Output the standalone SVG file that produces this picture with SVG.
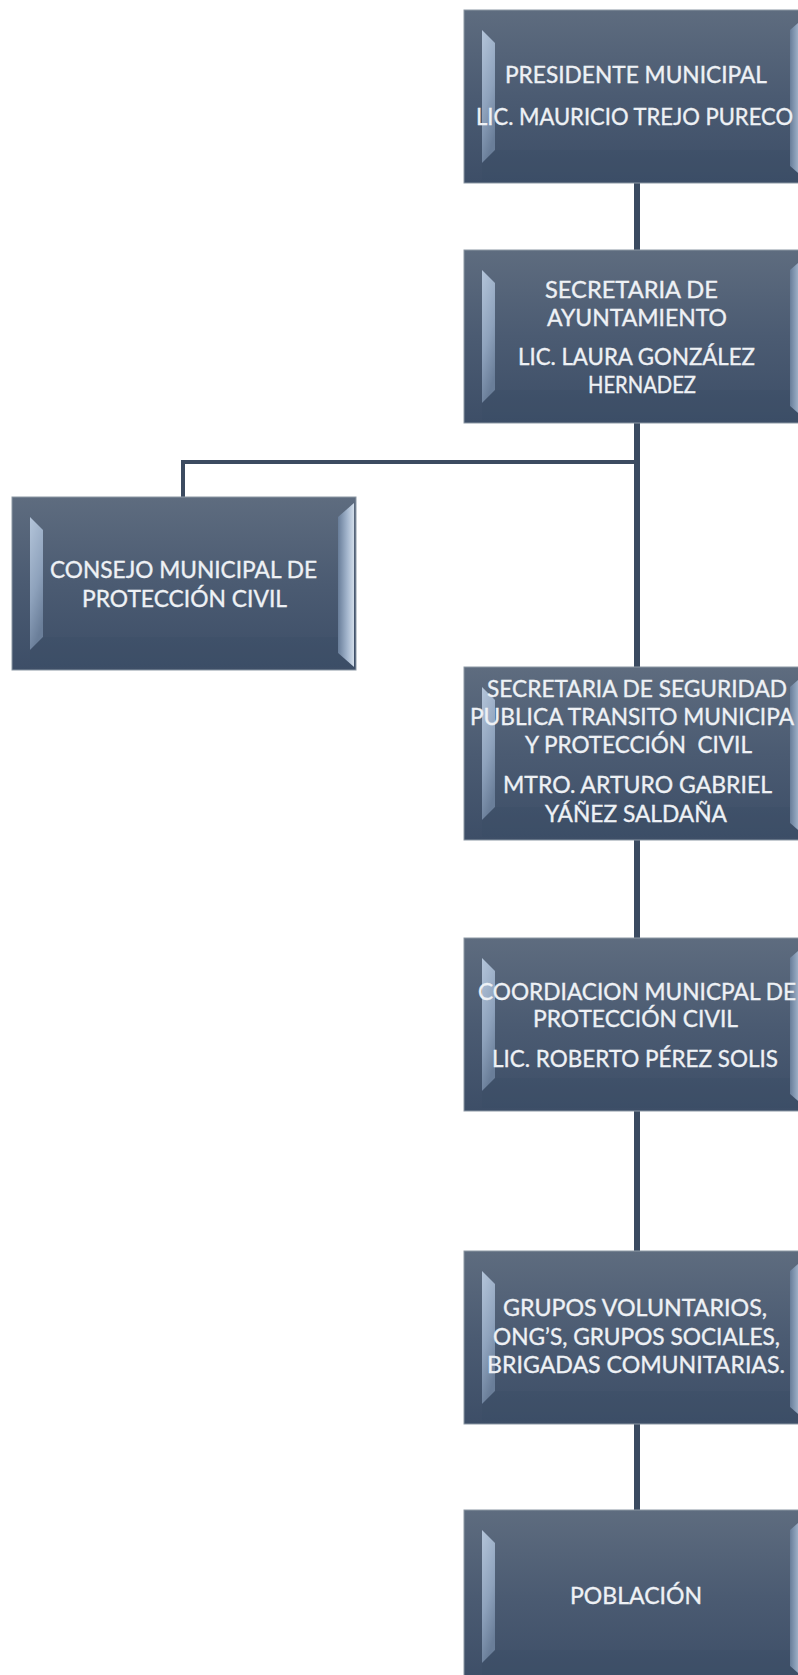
<svg xmlns="http://www.w3.org/2000/svg" width="798" height="1675" viewBox="0 0 798 1675">
<style>
.t{font-family:Lato,"Liberation Sans",sans-serif;font-size:23px;fill:#eef1f5;stroke:#eef1f5;stroke-width:0.35px;}
.conn{fill:none;stroke:#3a4a60;stroke-width:6;}
.branch{fill:none;stroke:#3c4b60;stroke-width:4;}
</style>
<defs>
<linearGradient id="faceG" x1="0" y1="0" x2="0" y2="1">
<stop offset="0" stop-color="#5e6c7f"/>
<stop offset="0.5" stop-color="#4b5b72"/>
<stop offset="1" stop-color="#3d4e67"/>
</linearGradient>
<linearGradient id="leftG" x1="0" y1="0" x2="0.3" y2="1">
<stop offset="0" stop-color="#b4c5da"/>
<stop offset="0.6" stop-color="#8ea2bc"/>
<stop offset="1" stop-color="#6a7e99"/>
</linearGradient>
<linearGradient id="rightG" x1="0" y1="0" x2="1" y2="0">
<stop offset="0" stop-color="#687d99"/>
<stop offset="0.6" stop-color="#a6b8cf"/>
<stop offset="1" stop-color="#d2dde9"/>
</linearGradient>
<g id="box">
<rect x="0" y="0" width="344" height="173" fill="url(#faceG)" stroke="#8b97a4" stroke-width="1"/>
<polygon points="18,20 31,33 31,140 18,153" fill="url(#leftG)"/>
<polygon points="326,20 342,6 342,170 326,156" fill="url(#rightG)"/>
<polygon points="18,153 31,140 326,140 326,156 342,170 18,170" fill="#394a62" opacity="0.25"/>
</g>
</defs>

<g id="connectors">
<path class="conn" d="M637,183 V250"/>
<path class="conn" d="M637,423 V667"/>
<path class="conn" d="M637,840 V938"/>
<path class="conn" d="M637,1111 V1251"/>
<path class="conn" d="M637,1424 V1510"/>
<path class="branch" d="M637,462 H183 V497"/>
</g>

<g id="presidente">
<use href="#box" x="464" y="10"/>
<text class="t" x="505" y="83" textLength="262" lengthAdjust="spacingAndGlyphs">PRESIDENTE MUNICIPAL</text>
<text class="t" x="476" y="125" textLength="317" lengthAdjust="spacingAndGlyphs">LIC. MAURICIO TREJO PURECO</text>
</g>

<g id="secretaria-ayuntamiento">
<use href="#box" x="464" y="250"/>
<text class="t" x="545" y="298" textLength="173" lengthAdjust="spacingAndGlyphs">SECRETARIA DE</text>
<text class="t" x="547" y="326" textLength="180" lengthAdjust="spacingAndGlyphs">AYUNTAMIENTO</text>
<text class="t" x="518" y="365" textLength="237" lengthAdjust="spacingAndGlyphs">LIC. LAURA GONZÁLEZ</text>
<text class="t" x="588" y="393" textLength="108" lengthAdjust="spacingAndGlyphs">HERNADEZ</text>
</g>

<g id="consejo">
<use href="#box" x="12" y="497"/>
<text class="t" x="50" y="578" textLength="267" lengthAdjust="spacingAndGlyphs">CONSEJO MUNICIPAL DE</text>
<text class="t" x="82" y="607" textLength="205" lengthAdjust="spacingAndGlyphs">PROTECCIÓN CIVIL</text>
</g>

<g id="seguridad-publica">
<use href="#box" x="464" y="667"/>
<text class="t" x="487" y="697" textLength="300" lengthAdjust="spacingAndGlyphs">SECRETARIA DE SEGURIDAD</text>
<text class="t" x="470" y="725" textLength="324" lengthAdjust="spacingAndGlyphs">PUBLICA TRANSITO MUNICIPA</text>
<text class="t" x="525" y="753" textLength="227" lengthAdjust="spacingAndGlyphs" style="white-space:pre">Y PROTECCIÓN  CIVIL</text>
<text class="t" x="503" y="793" textLength="269" lengthAdjust="spacingAndGlyphs">MTRO. ARTURO GABRIEL</text>
<text class="t" x="545" y="822" textLength="182" lengthAdjust="spacingAndGlyphs">YÁÑEZ SALDAÑA</text>
</g>

<g id="coordinacion">
<use href="#box" x="464" y="938"/>
<text class="t" x="478" y="1000" textLength="318" lengthAdjust="spacingAndGlyphs">COORDIACION MUNICPAL DE</text>
<text class="t" x="533" y="1027" textLength="205" lengthAdjust="spacingAndGlyphs">PROTECCIÓN CIVIL</text>
<text class="t" x="492" y="1067" textLength="286" lengthAdjust="spacingAndGlyphs">LIC. ROBERTO PÉREZ SOLIS</text>
</g>

<g id="grupos">
<use href="#box" x="464" y="1251"/>
<text class="t" x="503" y="1316" textLength="264" lengthAdjust="spacingAndGlyphs">GRUPOS VOLUNTARIOS,</text>
<text class="t" x="493" y="1345" textLength="287" lengthAdjust="spacingAndGlyphs">ONG’S, GRUPOS SOCIALES,</text>
<text class="t" x="487" y="1373" textLength="298" lengthAdjust="spacingAndGlyphs">BRIGADAS COMUNITARIAS.</text>
</g>

<g id="poblacion">
<use href="#box" x="464" y="1510"/>
<text class="t" x="570" y="1604" textLength="132" lengthAdjust="spacingAndGlyphs">POBLACIÓN</text>
</g>
</svg>
